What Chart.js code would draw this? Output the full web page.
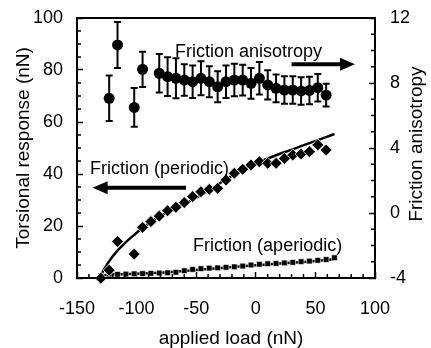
<!DOCTYPE html>
<html><head><meta charset="utf-8">
<script src="https://cdn.jsdelivr.net/npm/chart.js@4.4.1/dist/chart.umd.min.js"></script>
<style>html,body{margin:0;padding:0;background:#fff;}#wrap{width:431px;height:348px;}</style>
</head><body><div id="wrap"><canvas id="c" width="431" height="348"></canvas></div>
<script>
// ---- data ----
const loadPeriodic = [-130,-123,-116,-102,-95,-88,-81,-74,-67,-60,-53,-46,-39,-32,-25,-18,-11,-4,3,10,17,24,31,38,45,52,59];
const frictionPeriodic = [-0.1,3.0,14.0,9.2,19.5,21.7,23.8,25.9,27.2,29.0,31.3,33.2,34.1,34.5,37.7,40.3,41.8,43.5,44.7,44.1,44.1,46.0,47.3,47.7,48.6,51.2,49.2];

const loadAperiodic = [-130,-123,-116,-109,-102,-95,-88,-81,-74,-67,-60,-53,-46,-39,-32,-25,-18,-11,-4,3,10,17,24,31,38,45,52,59,66];
const frictionAperiodic = [0.8,1.5,1.4,1.5,1.6,1.7,1.8,1.9,2.0,2.2,2.8,3.3,3.6,3.8,3.9,4.1,4.3,4.6,5.0,5.3,5.5,5.6,5.8,6.0,6.3,6.5,6.8,7.1,7.8];

const loadAnisotropy = [-123,-116,-102,-95,-81,-74,-67,-60,-53,-46,-39,-32,-25,-18,-11,-4,3,10,17,24,31,38,45,52,59];
const anisotropy = [7.06,10.34,6.5,8.84,8.6,8.39,8.29,8.18,8.08,8.29,8.08,7.77,8.08,8.18,8.18,7.98,8.29,7.88,7.67,7.57,7.57,7.51,7.54,7.71,7.26];
const anisotropyErr = [1.4,1.42,1.19,1.09,1.18,1.19,1.23,0.97,1.0,1.05,0.95,0.95,1.0,1.0,0.95,0.95,1.0,0.9,0.85,0.85,0.85,0.85,0.85,0.85,0.7];

const loadPeriodicFit = [-131,-127,-123,-116,-109,-102,-95,-88,-81,-67,-53,-39,-25,-11,3,17,31,45,59,66];
const periodicFit = [0,3.5,6.5,10.5,13.8,16.6,19.3,21.6,23.6,27.0,30.2,33.8,38.0,41.6,44.6,47.2,49.5,51.9,54.2,55.4];

const loadAperiodicFit = [-131,-127,-120,-100,-80,-60,-40,-20,0,20,40,66];
const aperiodicFit = [0,1.0,1.4,1.6,2.0,2.7,3.5,4.2,4.9,5.6,6.2,7.2];

const xTickValues = [-150,-100,-50,0,50,100];
const yTickValues = [0,20,40,60,80,100];
const y2TickValues = [-4,0,4,8,12];

const xTitle = 'applied load (nN)';
const yTitle = 'Torsional response (nN)';
const y2Title = 'Friction anisotropy';

const FONT = '"Liberation Sans", Arial, Helvetica, sans-serif';

const pts = (xs, ys) => xs.map((x, i) => ({x, y: ys[i]}));

// ---- plugin: error bars, frame, inward minor ticks, titles, annotations ----
const deco = {
  id: 'deco',
  beforeDatasetsDraw(chart) {
    const ctx = chart.ctx, xs = chart.scales.x, ys = chart.scales.y2;
    ctx.save();
    ctx.strokeStyle = '#000'; ctx.lineWidth = 2;
    loadAnisotropy.forEach((l, i) => {
      const px = xs.getPixelForValue(l);
      const top = ys.getPixelForValue(anisotropy[i] + anisotropyErr[i]);
      const bot = ys.getPixelForValue(anisotropy[i] - anisotropyErr[i]);
      ctx.beginPath();
      ctx.moveTo(px, top); ctx.lineTo(px, bot);
      ctx.moveTo(px - 3.5, top); ctx.lineTo(px + 3.5, top);
      ctx.moveTo(px - 3.5, bot); ctx.lineTo(px + 3.5, bot);
      ctx.stroke();
    });
    ctx.restore();
  },
  afterDraw(chart) {
    const ctx = chart.ctx, a = chart.chartArea;
    const xs = chart.scales.x, yl = chart.scales.y, yr = chart.scales.y2;
    ctx.save();
    ctx.fillStyle = '#000';
    ctx.strokeStyle = '#000';
    const L = xs.getPixelForValue(-150), R = xs.getPixelForValue(100);
    const B = yl.getPixelForValue(0), T = yl.getPixelForValue(100);

    // inward minor ticks
    ctx.lineWidth = 1.5;
    ctx.beginPath();
    for (let v = -150; v <= 100; v += 10) {
      if (v % 50 === 0) continue;
      const p = xs.getPixelForValue(v);
      ctx.moveTo(p, B); ctx.lineTo(p, B - 4);
    }
    for (let v = 0; v <= 100; v += 5) {
      if (v % 20 === 0) continue;
      const p = yl.getPixelForValue(v);
      ctx.moveTo(L, p); ctx.lineTo(L + 4, p);
    }
    for (let v = -4; v <= 12; v += 1) {
      if (v % 4 === 0) continue;
      const p = yr.getPixelForValue(v);
      ctx.moveTo(R, p); ctx.lineTo(R - 4, p);
    }
    ctx.stroke();
    // frame (also drawn by the axis borders)
    ctx.lineWidth = 2;
    ctx.strokeRect(L, T, R - L, B - T);

    // axis titles
    ctx.font = '19px ' + FONT;
    ctx.textAlign = 'center';
    ctx.textBaseline = 'alphabetic';
    ctx.fillText(xTitle, (a.left + a.right) / 2 + 5, 344);
    ctx.save();
    ctx.translate(29, (a.top + a.bottom) / 2);
    ctx.rotate(-Math.PI / 2);
    ctx.fillText(yTitle, 0, 0);
    ctx.restore();
    ctx.save();
    ctx.translate(422, (a.top + a.bottom) / 2 - 4);
    ctx.rotate(-Math.PI / 2);
    ctx.fillText(y2Title, 0, 0);
    ctx.restore();

    // annotations (anchored in data coordinates)
    ctx.font = '18px ' + FONT;
    ctx.textAlign = 'left';
    ctx.fillText('Friction anisotropy', xs.getPixelForValue(-67.8), yl.getPixelForValue(85.1));
    ctx.fillText('Friction (periodic)', xs.getPixelForValue(-139.1), yl.getPixelForValue(40));
    ctx.fillText('Friction (aperiodic)', xs.getPixelForValue(-52.6), yl.getPixelForValue(10.4));

    const arrow = (x0, x1, y) => {
      const dir = Math.sign(x1 - x0);
      ctx.lineWidth = 4;
      ctx.beginPath();
      ctx.moveTo(x0, y); ctx.lineTo(x1 - dir * 12, y);
      ctx.stroke();
      ctx.beginPath();
      ctx.moveTo(x1, y);
      ctx.lineTo(x1 - dir * 15, y - 6.5);
      ctx.lineTo(x1 - dir * 15, y + 6.5);
      ctx.closePath();
      ctx.fill();
    };
    arrow(xs.getPixelForValue(30), xs.getPixelForValue(83.2), yl.getPixelForValue(82.2));
    arrow(xs.getPixelForValue(-58.5), xs.getPixelForValue(-136.9), yl.getPixelForValue(34.7));
    ctx.restore();
  }
};

const tickFont = {family: FONT, size: 18};
const noPad = s => { s.paddingTop = 0; s.paddingBottom = 0; s.paddingLeft = 0; s.paddingRight = 0; };
const axisBorder = {display: true, color: '#000', width: 2};
// major ticks drawn by the library, pointing into the plot (negative tick length)
const inwardGrid = {display: true, drawOnChartArea: false, drawTicks: true, tickLength: -6, tickColor: '#000', tickWidth: 1.5, color: '#000'};

new Chart(document.getElementById('c'), {
  type: 'scatter',
  data: {
    datasets: [
      {label: 'Friction (periodic)', data: pts(loadPeriodic, frictionPeriodic), yAxisID: 'y',
       pointStyle: 'rectRot', pointRadius: 6, backgroundColor: '#000', borderColor: '#fff', borderWidth: 0.8,
       showLine: false, clip: false, order: 1},
      {label: 'Friction (aperiodic)', data: pts(loadAperiodic, frictionAperiodic), yAxisID: 'y',
       pointStyle: 'rect', pointRadius: 4, backgroundColor: '#000', borderColor: '#fff', borderWidth: 0.6,
       showLine: false, clip: false, order: 1},
      {label: 'Friction anisotropy', data: pts(loadAnisotropy, anisotropy), yAxisID: 'y2',
       pointStyle: 'circle', pointRadius: 5.5, backgroundColor: '#000', borderColor: '#000', borderWidth: 0,
       showLine: false, clip: false, order: 1},
      {label: 'periodic fit', data: pts(loadPeriodicFit, periodicFit), yAxisID: 'y',
       showLine: true, pointRadius: 0, borderColor: '#000', borderWidth: 2.5, fill: false,
       cubicInterpolationMode: 'monotone', clip: false, order: 2},
      {label: 'aperiodic fit', data: pts(loadAperiodicFit, aperiodicFit), yAxisID: 'y',
       showLine: true, pointRadius: 0, borderColor: '#000', borderWidth: 2.5, fill: false,
       cubicInterpolationMode: 'monotone', clip: false, order: 2}
    ]
  },
  options: {
    responsive: false,
    animation: false,
    devicePixelRatio: 1,
    layout: {padding: {top: 0, left: 0, right: 0, bottom: 0}},
    plugins: {legend: {display: false}, tooltip: {enabled: false}},
    scales: {
      x: {
        type: 'linear', min: -150, max: 100,
        afterBuildTicks: s => { s.ticks = xTickValues.map(v => ({value: v})); },
        afterFit: s => { s.height = 70; noPad(s); },
        grid: inwardGrid,
        border: axisBorder,
        ticks: {font: tickFont, color: '#000', padding: 26, maxRotation: 0, autoSkip: false}
      },
      x2: {
        type: 'linear', position: 'top', min: -150, max: 100,
        afterFit: s => { s.height = 18; noPad(s); },
        grid: {display: false, drawTicks: false},
        border: axisBorder,
        ticks: {display: false}
      },
      y: {
        type: 'linear', position: 'left', min: 0, max: 100,
        afterBuildTicks: s => { s.ticks = yTickValues.map(v => ({value: v})); },
        afterFit: s => { s.width = 77; noPad(s); },
        grid: inwardGrid,
        border: axisBorder,
        ticks: {font: tickFont, color: '#000', padding: 20}
      },
      y2: {
        type: 'linear', position: 'right', min: -4, max: 12,
        afterBuildTicks: s => { s.ticks = y2TickValues.map(v => ({value: v})); },
        afterFit: s => { s.width = 56; noPad(s); },
        grid: inwardGrid,
        border: axisBorder,
        ticks: {font: tickFont, color: '#000', padding: 21}
      }
    }
  },
  plugins: [deco]
});
</script></body></html>
